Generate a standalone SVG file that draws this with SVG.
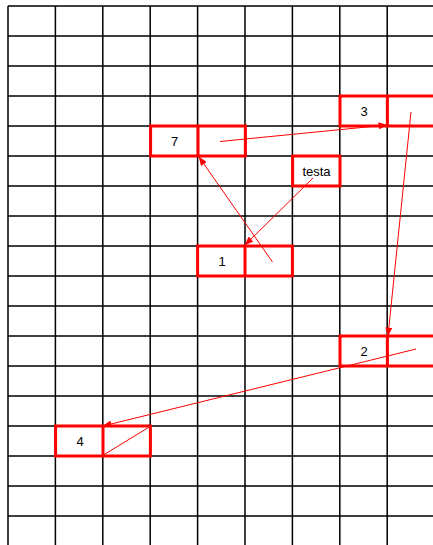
<svg xmlns="http://www.w3.org/2000/svg" width="433" height="545" viewBox="0 0 433 545">
<style>
.g{stroke:#000;stroke-width:1.5;fill:none}
.box{fill:none;stroke:#ff0000;stroke-width:3}
.c{stroke:#ff0000;stroke-width:1;fill:none}
.t{font-family:"Liberation Sans",Arial,sans-serif;font-size:13px;fill:#000;text-anchor:middle}
</style>
<defs>
<marker id="ah" markerWidth="9" markerHeight="7" refX="8.5" refY="3.5" orient="auto" markerUnits="userSpaceOnUse">
<path d="M0,0 L9,3.5 L0,7 Z" fill="#ff0000"/>
</marker>
</defs>
<rect width="433" height="545" fill="#fff"/>
<g id="grid" class="g">
<path d="M8,6V545 M55.4,6V545 M102.8,6V545 M150.2,6V545 M197.6,6V545 M245,6V545 M292.4,6V545 M339.8,6V545 M387.2,6V545"/>
<path d="M8,6H433 M8,36H433 M8,66H433 M8,96H433 M8,126H433 M8,156H433 M8,186H433 M8,216H433 M8,246H433 M8,276H433 M8,306H433 M8,336H433 M8,366H433 M8,396H433 M8,426H433 M8,456H433 M8,486H433 M8,516H433"/>
</g>
<g id="node7"><rect class="box" x="150.6" y="126" width="94.8" height="30"/><line class="box" x1="198" y1="126" x2="198" y2="156"/><text class="t" x="174.5" y="146">7</text></g>
<g id="node3"><rect class="box" x="340" y="96" width="100" height="30"/><line class="box" x1="387.4" y1="96" x2="387.4" y2="126"/><text class="t" x="364" y="116">3</text></g>
<g id="nodetesta"><rect class="box" x="292.6" y="156" width="47.4" height="30"/><text class="t" x="316.5" y="176">testa</text></g>
<g id="node1"><rect class="box" x="197.6" y="246" width="94.8" height="30"/><line class="box" x1="245" y1="246" x2="245" y2="276"/><text class="t" x="222" y="266">1</text></g>
<g id="node2"><rect class="box" x="340" y="336" width="100" height="30"/><line class="box" x1="387.4" y1="336" x2="387.4" y2="366"/><text class="t" x="364" y="356">2</text></g>
<g id="node4"><rect class="box" x="55.6" y="426" width="94.8" height="30"/><line class="box" x1="103" y1="426" x2="103" y2="456"/><text class="t" x="80" y="446">4</text></g>
<g id="connectors">
<line class="c" x1="220" y1="141.5" x2="387" y2="125" marker-end="url(#ah)"/>
<line class="c" x1="411" y1="112" x2="388" y2="336" marker-end="url(#ah)"/>
<line class="c" x1="416" y1="349" x2="103" y2="426" marker-end="url(#ah)"/>
<line class="c" x1="150" y1="426.5" x2="103.5" y2="455"/>
<line class="c" x1="313" y1="178" x2="245" y2="245" marker-end="url(#ah)"/>
<line class="c" x1="272.5" y1="262" x2="199" y2="157" marker-end="url(#ah)"/>
</g>
</svg>
